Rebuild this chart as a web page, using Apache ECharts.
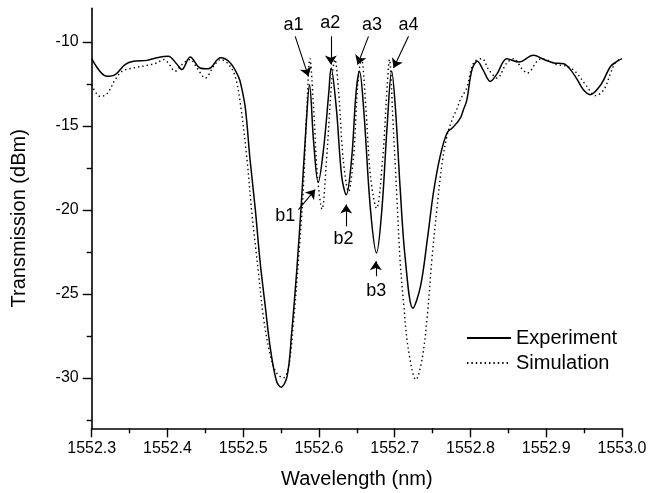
<!DOCTYPE html>
<html>
<head>
<meta charset="utf-8">
<script src="https://cdn.jsdelivr.net/npm/echarts@6/dist/echarts.min.js"></script>
<style>
html,body{margin:0;padding:0;background:#fff;}
#chart{width:649px;height:493px;}
</style>
</head>
<body>
<div id="chart"></div>
<script>
// ---- data ----
const expWavelength = [1552.300,1552.320,1552.331,1552.344,1552.355,1552.373,1552.386,1552.401,1552.412,1552.419,
  1552.430,1552.443,1552.454,1552.470,1552.483,1552.494,1552.498,1552.503,1552.509,1552.516,
  1552.522,1552.529,1552.536,1552.544,1552.550,1552.558,1552.564,1552.571,1552.577,1552.583,
  1552.5875,1552.593,1552.599,1552.606,1552.613,1552.616,1552.623,1552.630,1552.636,1552.643,
  1552.649,1552.6535,1552.659,1552.668,1552.676,1552.683,1552.690,1552.696,1552.701,1552.707,
  1552.714,1552.724,1552.734,1552.743,1552.751,1552.760,1552.769,1552.776,1552.782,1552.787,
  1552.791,1552.795,1552.802,1552.809,1552.817,1552.826,1552.835,1552.848,1552.864,1552.883,
  1552.897,1552.910,1552.923,1552.932,1552.941,1552.949,1552.958,1552.972,1552.985,1552.994,1553.000];
const expTransmission = [-11.0,-12.05,-11.95,-11.35,-11.15,-11.1,-10.95,-10.86,-11.3,-11.65,
  -10.9,-11.55,-11.6,-10.95,-11.25,-12.1,-12.75,-14.0,-17.0,-19.98,
  -22.96,-25.7,-28.3,-30.2,-30.55,-29.9,-27.3,-23.4,-19.4,-15.0,
  -12.55,-16.0,-18.36,-16.4,-13.0,-11.55,-14.0,-18.0,-19.1,-17.0,
  -13.0,-11.75,-14.0,-19.98,-22.56,-20.0,-15.0,-11.75,-14.0,-18.6,
  -22.96,-25.85,-24.55,-21.77,-19.0,-16.8,-15.42,-15.12,-14.82,-14.5,
  -14.0,-13.5,-11.65,-11.15,-11.7,-12.35,-11.9,-11.0,-11.2,-10.8,
  -11.05,-11.25,-11.3,-11.65,-12.25,-12.85,-13.14,-12.55,-11.45,-11.15,-11.0];

const simWavelength = [1552.300,1552.311,1552.320,1552.331,1552.340,1552.355,1552.373,1552.386,1552.395,1552.401,
  1552.410,1552.419,1552.430,1552.439,1552.450,1552.461,1552.470,1552.480,1552.489,1552.496,
  1552.505,1552.511,1552.520,1552.527,1552.536,1552.544,1552.553,1552.560,1552.566,1552.573,
  1552.579,1552.584,1552.588,1552.593,1552.598,1552.604,1552.610,1552.617,1552.621,1552.626,
  1552.632,1552.639,1552.646,1552.651,1552.656,1552.662,1552.668,1552.676,1552.684,1552.690,
  1552.693,1552.698,1552.703,1552.707,1552.712,1552.718,1552.728,1552.736,1552.743,1552.749,
  1552.756,1552.762,1552.769,1552.776,1552.782,1552.787,1552.795,1552.804,1552.815,1552.824,
  1552.835,1552.848,1552.857,1552.868,1552.875,1552.888,1552.894,1552.914,1552.927,1552.938,
  1552.952,1552.965,1552.976,1552.985,1552.991,1552.998];
const simTransmission = [-12.55,-13.24,-13.1,-12.25,-11.75,-11.55,-11.4,-11.25,-11.05,-11.25,
  -11.75,-11.35,-11.05,-11.55,-12.15,-11.45,-11.05,-11.3,-12.0,-13.6,
  -17.0,-20.0,-23.7,-26.5,-28.7,-29.7,-30.0,-29.3,-26.9,-22.96,
  -19.0,-14.0,-11.0,-14.0,-18.0,-19.95,-17.0,-12.25,-11.05,-13.0,
  -17.0,-18.9,-16.6,-12.65,-11.0,-14.0,-18.0,-19.9,-17.0,-12.65,
  -11.05,-15.0,-19.4,-22.96,-25.7,-28.3,-30.1,-28.9,-26.3,-22.96,
  -19.8,-17.4,-15.6,-14.6,-14.0,-13.4,-12.75,-11.25,-11.0,-11.65,
  -12.15,-11.25,-11.0,-11.6,-11.85,-11.15,-11.0,-11.35,-11.45,-11.75,
  -12.55,-13.2,-12.85,-11.85,-11.25,-11.0];

const xMajorTicks = [1552.3,1552.4,1552.5,1552.6,1552.7,1552.8,1552.9,1553.0];
const xMinorTicks = [1552.35,1552.45,1552.55,1552.65,1552.75,1552.85,1552.95];
const yMajorTicks = [-10,-15,-20,-25,-30];
const yMinorTicks = [-12.5,-17.5,-22.5,-27.5,-32.5];

// annotations: label, label anchor [wavelength, dBm], arrow from, arrow to
const annLabels = ['a1','a2','a3','a4','b1','b2','b3'];
const annText = [[1552.5663,-8.97],[1552.6148,-8.9],[1552.6699,-8.97],[1552.7182,-8.97],
                 [1552.5554,-20.34],[1552.6324,-21.73],[1552.6756,-24.85]];
const annFrom = [[1552.5686,-9.67],[1552.6157,-9.67],[1552.6654,-9.67],[1552.7182,-9.67],
                 [1552.5729,-19.98],[1552.6359,-20.98],[1552.6750,-23.95]];
const annTo = [[1552.5861,-12.05],[1552.6157,-11.35],[1552.6509,-11.35],[1552.6984,-11.55],
               [1552.5950,-18.79],[1552.6359,-19.68],[1552.6750,-23.06]];

// ---- chart ----
const FONT = 'Liberation Sans, Arial, Helvetica, sans-serif';
const zip = (xs, ys) => xs.map((x, i) => [x, ys[i]]);

const chart = echarts.init(document.getElementById('chart'), null, {renderer: 'canvas'});
chart.setOption({
  animation: false,
  backgroundColor: '#ffffff',
  textStyle: {fontFamily: FONT, color: '#000'},
  grid: {left: 91.7, right: 27, top: 8.3, bottom: 64.7, outerBoundsMode: 'none', containLabel: false},
  legend: {
    orient: 'vertical', left: 461, top: 323,
    itemWidth: 44, itemHeight: 14, itemGap: 5,
    itemStyle: {opacity: 0},
    textStyle: {fontFamily: FONT, fontSize: 20, color: '#000', lineHeight: 20},
    data: ['Experiment', 'Simulation']
  },
  xAxis: [{
    type: 'value', min: 1552.3, max: 1553.0,
    name: 'Wavelength (nm)', nameLocation: 'middle', nameGap: 41,
    nameTextStyle: {fontFamily: FONT, fontSize: 20, color: '#000'},
    axisLine: {show: true, onZero: false, lineStyle: {color: '#000', width: 1.6}},
    axisTick: {show: true, inside: false, length: 9, lineStyle: {color: '#000', width: 1.4}, customValues: xMajorTicks},
    axisLabel: {show: true, fontFamily: FONT, fontSize: 16, color: '#000', margin: 12,
      customValues: xMajorTicks, formatter: v => Number(v).toFixed(1)},
    splitLine: {show: false}
  }, {
    type: 'value', min: 1552.3, max: 1553.0, position: 'bottom',
    axisLine: {show: false, onZero: false},
    axisTick: {show: true, inside: false, length: 5, lineStyle: {color: '#000', width: 1.4}, customValues: xMinorTicks},
    axisLabel: {show: false}, splitLine: {show: false}
  }],
  yAxis: [{
    type: 'value', min: -33, max: -8,
    name: 'Transmission (dBm)', nameLocation: 'middle', nameGap: 62, nameRotate: 90,
    nameTextStyle: {fontFamily: FONT, fontSize: 20, color: '#000'},
    axisLine: {show: true, onZero: false, lineStyle: {color: '#000', width: 1.6}},
    axisTick: {show: true, inside: false, length: 9, lineStyle: {color: '#000', width: 1.4}, customValues: yMajorTicks},
    axisLabel: {show: true, fontFamily: FONT, fontSize: 16, color: '#000', margin: 13,
      customValues: yMajorTicks, formatter: v => String(v)},
    splitLine: {show: false}
  }, {
    type: 'value', min: -33, max: -8, position: 'left',
    axisLine: {show: false, onZero: false},
    axisTick: {show: true, inside: false, length: 5, lineStyle: {color: '#000', width: 1.4}, customValues: yMinorTicks},
    axisLabel: {show: false}, splitLine: {show: false}
  }],
  series: [{
    name: 'Experiment', type: 'line', xAxisIndex: 0, yAxisIndex: 0,
    data: zip(expWavelength, expTransmission),
    symbol: 'none', smooth: 0.35,
    lineStyle: {color: '#000', width: 1.5, type: 'solid'},
    itemStyle: {color: '#000'},
    z: 3,
    markLine: {
      silent: true, symbol: ['none', 'arrow'], symbolSize: 9,
      lineStyle: {color: '#000', width: 1.1, type: 'solid'},
      itemStyle: {color: '#000'},
      label: {show: false},
      data: annFrom.map((f, i) => [{coord: f}, {coord: annTo[i]}])
    },
    markPoint: {
      silent: true, symbol: 'circle', symbolSize: 0,
      label: {show: true, position: 'inside', fontFamily: FONT, fontSize: 18, color: '#000',
        formatter: p => p.name},
      data: annText.map((c, i) => ({name: annLabels[i], coord: c}))
    }
  }, {
    name: 'Simulation', type: 'line', xAxisIndex: 0, yAxisIndex: 0,
    data: zip(simWavelength, simTransmission),
    symbol: 'none', smooth: 0.35,
    lineStyle: {color: '#000', width: 1.4, type: [1.4, 3]},
    itemStyle: {color: '#000'},
    z: 2
  }]
});
</script>
</body>
</html>
